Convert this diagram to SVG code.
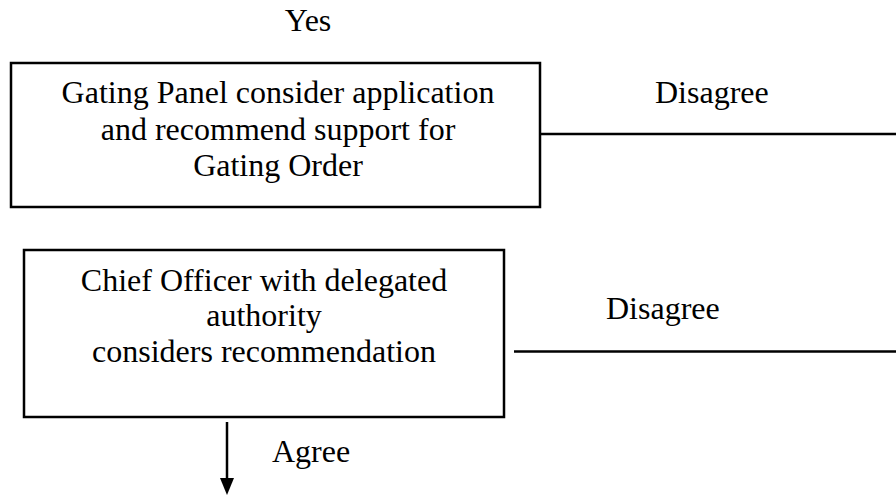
<svg xmlns="http://www.w3.org/2000/svg" width="896" height="498" viewBox="0 0 896 498" font-family="'Liberation Serif', 'Times New Roman', Tinos, 'DejaVu Serif', serif" font-size="32">
<style>
text{font-family:'Liberation Serif','Times New Roman',Tinos,'DejaVu Serif',serif;font-size:32px;fill:#000}
.c{text-anchor:middle}
.box{fill:#fff;stroke:#000;stroke-width:2.5}
.ln{stroke:#000;stroke-width:2.5;fill:none}
</style>
<rect width="896" height="498" fill="#fff"/>
<text id="yes" x="308" y="31" class="c">Yes</text>
<g id="node1">
<rect class="box" x="11" y="63" width="529" height="144"/>
<text class="c" x="278" y="103">Gating Panel consider application</text>
<text class="c" x="278" y="140">and recommend support for</text>
<text class="c" x="278" y="176">Gating Order</text>
</g>
<g id="node2">
<rect class="box" x="24" y="250" width="480" height="167"/>
<text class="c" x="264" y="291">Chief Officer with delegated</text>
<text class="c" x="264" y="326">authority</text>
<text class="c" x="264" y="362">considers recommendation</text>
</g>
<g id="connectors">
<line class="ln" x1="540" y1="134" x2="896" y2="134"/>
<text x="655" y="103">Disagree</text>
<line class="ln" x1="514" y1="351.5" x2="896" y2="351.5"/>
<text x="606" y="319">Disagree</text>
<line class="ln" x1="227" y1="422" x2="227" y2="480"/>
<path d="M220,478 L234,478 L227,495 Z" fill="#000"/>
<text x="272" y="462">Agree</text>
</g>
</svg>
